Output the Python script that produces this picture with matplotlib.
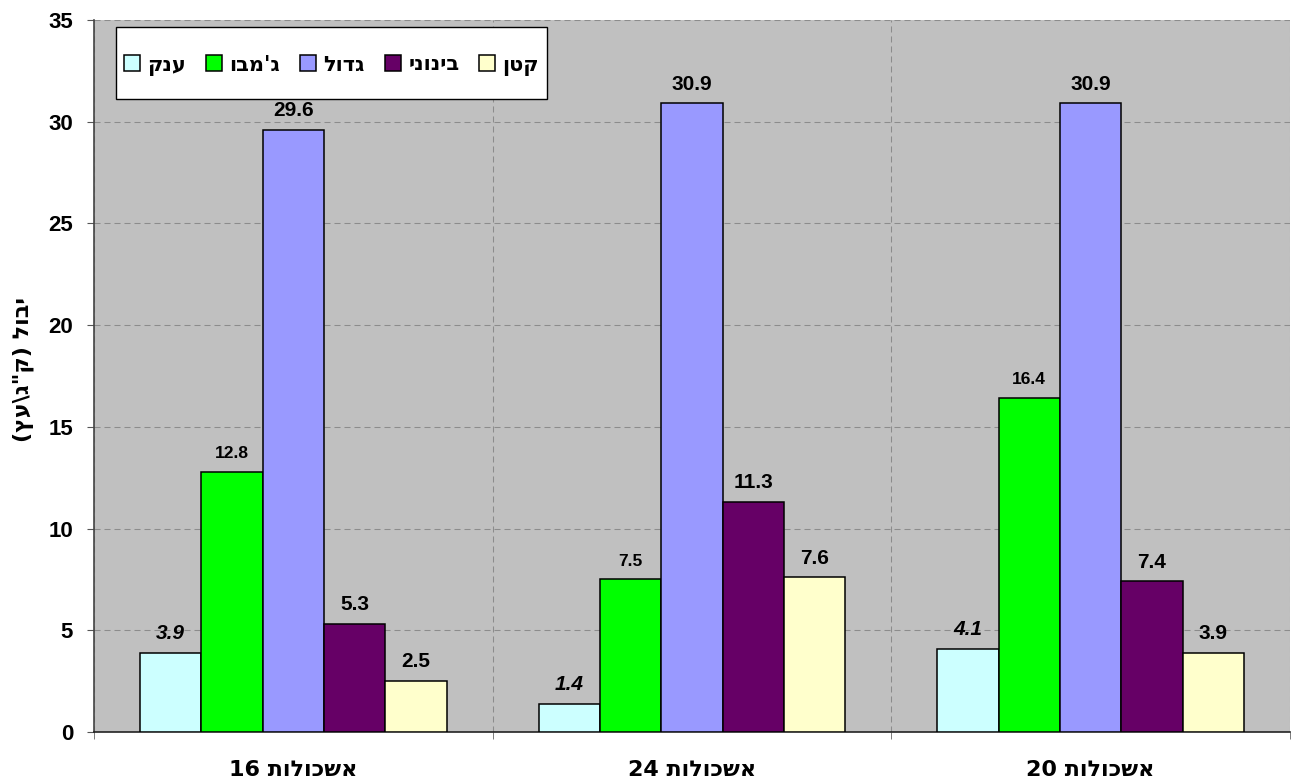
import re
import matplotlib
matplotlib.use("Agg")
import matplotlib.pyplot as plt
from matplotlib.patches import Rectangle
import numpy as np

plt.rcParams['font.family'] = ['Liberation Sans', 'DejaVu Sans']
plt.rcParams['font.weight'] = 'bold'
HEB = ['DejaVu Sans']

# Data
categories = ["אשכולות 16", "אשכולות 24", "אשכולות 20"]
series_names = ["ענק", "ג'מבו", "גדול", "בינוני", "קטן"]
giant = [3.9, 1.4, 4.1]
jumbo = [12.8, 7.5, 16.4]
large = [29.6, 30.9, 30.9]
medium = [5.3, 11.3, 7.4]
small = [2.5, 7.6, 3.9]
y_label = "יבול (ק\"ג\\עץ)"
y_ticks = [0, 5, 10, 15, 20, 25, 30, 35]

series_values = [giant, jumbo, large, medium, small]
colors = ["#CCFFFF", "#00FF00", "#9999FF", "#660066", "#FFFFCC"]
label_style = [
    dict(fontsize=15, fontstyle='italic'),
    dict(fontsize=12.5, fontstyle='normal'),
    dict(fontsize=15, fontstyle='normal'),
    dict(fontsize=15, fontstyle='normal'),
    dict(fontsize=15, fontstyle='normal'),
]


def rtl(s):
    """Reorder a right-to-left string so glyphs are placed left to right."""
    tokens = re.findall(r'[0-9.]+|[^0-9.]', s)
    out = ''.join(reversed(tokens))
    return out.translate(str.maketrans({'(': ')', ')': '('}))


W, H = 1297, 782
fig = plt.figure(figsize=(W / 100, H / 100), dpi=100)
ax = fig.add_axes([94 / W, 1 - 732 / H, (1290 - 94) / W, (732 - 20) / H])
ax.set_facecolor("#C0C0C0")

x = np.arange(len(categories))
n = len(series_values)
width = 0.154
offsets = (np.arange(n) - (n - 1) / 2) * width

handles = []
for i, (vals, col) in enumerate(zip(series_values, colors)):
    bars = ax.bar(x + offsets[i], vals, width, color=col, edgecolor='black',
                  linewidth=1.1, label=rtl(series_names[i]), zorder=3)
    handles.append(bars)
    for b, v in zip(bars, vals):
        ax.annotate(f"{v:.1f}", (b.get_x() + b.get_width() / 2, v),
                    xytext=(0, 10), textcoords='offset points',
                    ha='center', va='baseline', fontweight='bold',
                    **label_style[i], zorder=4)

ax.set_xlim(-0.5, len(categories) - 0.5)
ax.set_ylim(0, 35)
ax.set_yticks(y_ticks)
ax.set_yticklabels([str(t) for t in y_ticks], fontsize=16, fontweight='bold')
ax.set_xticks(x)
ax.set_xticklabels([rtl(c) for c in categories], fontsize=16, fontweight='bold', family=HEB)
ax.tick_params(axis='x', which='major', length=0, pad=20)
ax.set_xticks(np.arange(-0.5, len(categories)), minor=True)
ax.tick_params(axis='x', which='minor', length=5, color='#666666', direction='out')
ax.tick_params(axis='y', length=5, color='#555555', direction='out', pad=10)

dash = (0, (5.8, 3.8))
ax.grid(axis='y', which='major', linestyle=dash, color='#8C8C8C', linewidth=0.75, zorder=1)
ax.grid(axis='x', which='minor', linestyle=dash, color='#8C8C8C', linewidth=0.75, zorder=1)
ax.set_axisbelow(True)

for side in ['top', 'right']:
    ax.spines[side].set_visible(False)
ax.spines['left'].set_color('#444444')
ax.spines['bottom'].set_color('#222222')
ax.spines['left'].set_linewidth(1.2)
ax.spines['bottom'].set_linewidth(1.2)

fig.text(23 / W, 1 - 369 / H, rtl(y_label), rotation=90, ha='center', va='center',
         fontsize=16, fontweight='bold', family=HEB)

# Legend box and entries
box_l, box_r, box_t, box_b = 116, 547, 27, 99
fig.patches.append(Rectangle((box_l / W, 1 - box_b / H), (box_r - box_l) / W, (box_b - box_t) / H,
                             transform=fig.transFigure, facecolor='white', edgecolor='black',
                             linewidth=1.0, zorder=5))
leg = fig.legend(handles=handles, labels=[rtl(s) for s in series_names], ncol=5,
                 loc='center', bbox_to_anchor=((box_l + box_r) / 2 / W, 1 - 65 / H),
                 prop=dict(family=HEB, size=15, weight='bold'), frameon=False,
                 handlelength=0.78, handleheight=0.78, handletextpad=0.35,
                 columnspacing=0.95, borderpad=0, borderaxespad=0)
leg.set_zorder(6)

fig.savefig("out.png", dpi=100)
